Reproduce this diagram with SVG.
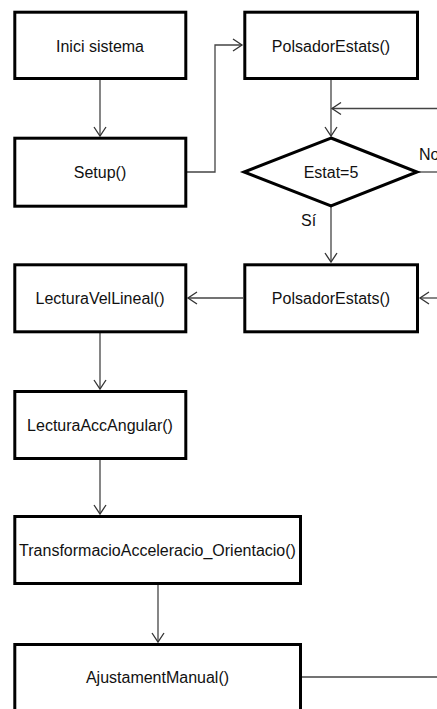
<svg xmlns="http://www.w3.org/2000/svg" width="437" height="709" viewBox="0 0 437 709">
<style>
.box{fill:#fff;stroke:#000;stroke-width:3}
.lbl{font-family:"Liberation Sans",Arial,sans-serif;font-size:16px;fill:#111;text-anchor:middle}
.side{font-family:"Liberation Sans",Arial,sans-serif;font-size:16px;fill:#111}
.con{fill:none;stroke:#444;stroke-width:1.3}
</style>
<defs>
<marker id="arr" markerWidth="12" markerHeight="14" refX="10" refY="7" orient="auto" markerUnits="userSpaceOnUse">
<path d="M1,1 L10,7 L1,13" fill="none" stroke="#333" stroke-width="1.3"/>
</marker>
</defs>
<rect width="437" height="709" fill="#fff"/>
<g id="connectors">
<path class="con" d="M100,79 V136" marker-end="url(#arr)"/>
<path class="con" d="M187,172 H215 V45 H242" marker-end="url(#arr)"/>
<path class="con" d="M331,79 V136" marker-end="url(#arr)"/>
<path class="con" d="M437,108.5 H332" marker-end="url(#arr)"/>
<path class="con" d="M417,172 H437"/>
<path class="con" d="M331,206 V262" marker-end="url(#arr)"/>
<path class="con" d="M243,298 H188" marker-end="url(#arr)"/>
<path class="con" d="M437,298 H420" marker-end="url(#arr)"/>
<path class="con" d="M100,333 V389" marker-end="url(#arr)"/>
<path class="con" d="M100,460 V514" marker-end="url(#arr)"/>
<path class="con" d="M158,585 V642" marker-end="url(#arr)"/>
<path class="con" d="M302,677 H437"/>
<text class="side" x="419" y="160">No</text>
<text class="side" x="301" y="226">Sí</text>
</g>
<g id="inici"><rect class="box" x="14.8" y="12.2" width="171" height="66.3"/><text class="lbl" x="100" y="51.5">Inici sistema</text></g>
<g id="setup"><rect class="box" x="14.8" y="138.2" width="171" height="68"/><text class="lbl" x="100" y="178">Setup()</text></g>
<g id="polsador1"><rect class="box" x="244.8" y="12.2" width="172.7" height="66.3"/><text class="lbl" x="331" y="51.5">PolsadorEstats()</text></g>
<g id="estat"><polygon class="box" points="331,138 417,172 331,206 244,172"/><text class="lbl" x="331" y="178">Estat=5</text></g>
<g id="polsador2"><rect class="box" x="244.8" y="264.8" width="172.7" height="67"/><text class="lbl" x="331" y="304">PolsadorEstats()</text></g>
<g id="lecturaVel"><rect class="box" x="14.8" y="264.8" width="171" height="67"/><text class="lbl" x="100" y="304">LecturaVelLineal()</text></g>
<g id="lecturaAcc"><rect class="box" x="14.8" y="391.5" width="171" height="67"/><text class="lbl" x="100" y="431">LecturaAccAngular()</text></g>
<g id="transformacio"><rect class="box" x="14.8" y="516.5" width="285.7" height="67"/><text class="lbl" x="157.5" y="556">TransformacioAcceleracio_Orientacio()</text></g>
<g id="ajustament"><rect class="box" x="14.8" y="644.5" width="285.7" height="68"/><text class="lbl" x="157.5" y="683">AjustamentManual()</text></g>
</svg>
